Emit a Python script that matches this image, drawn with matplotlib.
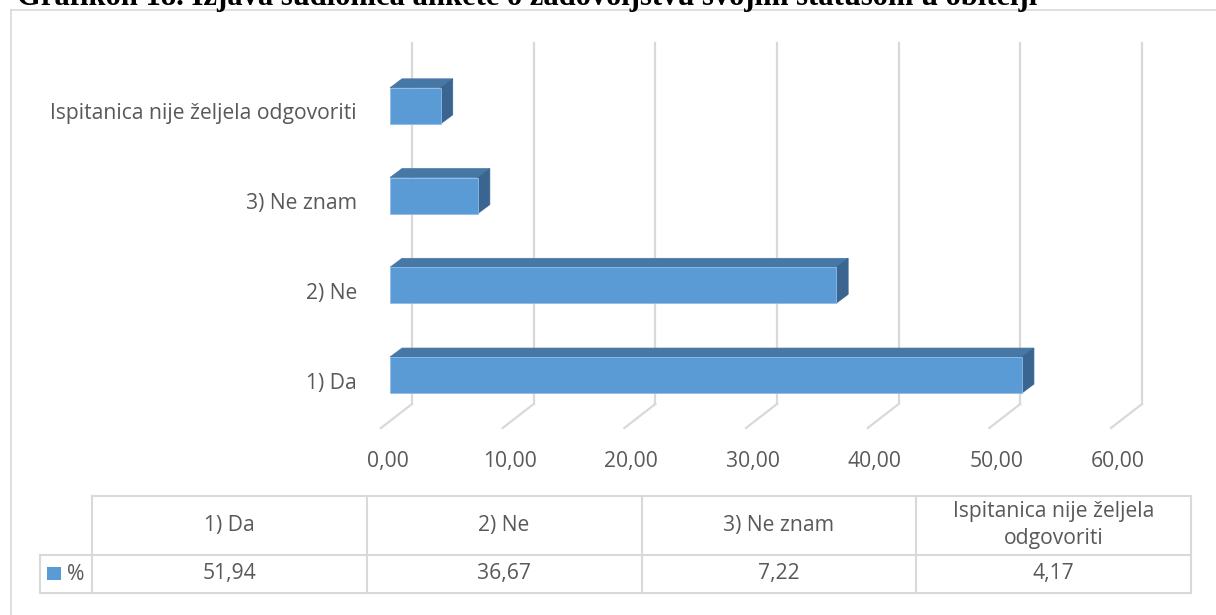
import matplotlib.pyplot as plt
from matplotlib.patches import Polygon, Rectangle
from matplotlib.lines import Line2D
from matplotlib import transforms

title = 'Grafikon 18. Izjava sudionica ankete o zadovoljstvu svojim statusom u obitelji'
categories = ['1) Da', '2) Ne', '3) Ne znam', 'Ispitanica nije željela odgovoriti']
header_labels = ['1) Da', '2) Ne', '3) Ne znam', 'Ispitanica nije željela\nodgovoriti']
values = [51.94, 36.67, 7.22, 4.17]
value_labels = ['51,94', '36,67', '7,22', '4,17']
xticks = [0, 10, 20, 30, 40, 50, 60]
xtick_labels = ['0,00', '10,00', '20,00', '30,00', '40,00', '50,00', '60,00']
series_name = '%'

plt.rcParams['font.family'] = ['Open Sans', 'DejaVu Sans']
txt_col = '#595959'
grid_col = '#d9d9d9'
front_col = '#5b9bd5'
top_col = '#4677a5'
side_col = '#3a6591'
fs = 15.2

W, H = 1216, 615
fig = plt.figure(figsize=(W / 100, H / 100), dpi=100)


def box(x0, y0, x1, y1):
    # pixel box (top-left origin) -> figure fraction rect
    return [x0 / W, 1 - y1 / H, (x1 - x0) / W, (y1 - y0) / H]


# ---- chart area
ax_px = (390, 43, 1120, 428)
ax = fig.add_axes(box(*ax_px))
ax.set_xlim(0, 60)
ax.set_ylim(-0.59, 3.70)
ax.axis('off')

ppx = (ax_px[2] - ax_px[0]) / 60.0
ppy = (ax_px[3] - ax_px[1]) / (3.70 + 0.59)
bt = transforms.blended_transform_factory(ax.transData, ax.transAxes)
floor_back = 24 / (ax_px[3] - ax_px[1])

# gridlines with the 3d floor
for v in xticks:
    ax.plot([v + 22 / ppx] * 2, [floor_back, 1], color=grid_col, lw=1.6,
            transform=bt, clip_on=False, zorder=1)
    ax.plot([v + 22 / ppx, v - 9 / ppx], [floor_back, 0], color=grid_col,
            lw=1.6, transform=bt, clip_on=False, zorder=1)

for v, lab in zip(xticks, xtick_labels):
    ax.text(v - 2 / ppx, -34 / (ax_px[3] - ax_px[1]), lab, transform=bt,
            ha='center', va='center', fontsize=fs, color=txt_col)

# bars
bh = 36 / ppy
dx, dy = 12 / ppx, 9 / ppy
for i, v in enumerate(values):
    y0, y1 = i - bh / 2, i + bh / 2
    ax.add_patch(Polygon([(0, y1), (v, y1), (v + dx, y1 + dy), (dx, y1 + dy)],
                         closed=True, fc=top_col, ec=top_col, lw=0.5, zorder=3))
    ax.add_patch(Polygon([(v, y0), (v + dx, y0 + dy), (v + dx, y1 + dy), (v, y1)],
                         closed=True, fc=side_col, ec=side_col, lw=0.5, zorder=3))
    ax.add_patch(Rectangle((0, y0), v, bh, fc=front_col, ec='#8fbde8', lw=0.6,
                           zorder=4))

lt = transforms.blended_transform_factory(ax.transAxes, ax.transData)
for i, c in enumerate(categories):
    ax.text(-33 / (ax_px[2] - ax_px[0]), i - 8 / ppy, c, transform=lt,
            ha='right', va='center', fontsize=fs, color=txt_col)

# ---- data table
colw = (1191 - 92) / len(categories)
lx = -52 / colw
tax = fig.add_axes(box(40, 496, 1191, 593))
tax.set_xlim(lx, len(categories))
tax.set_ylim(97, 0)
tax.axis('off')
n = len(categories)
kw = dict(color=grid_col, lw=1.5, clip_on=False)
tax.plot([0, n], [0, 0], **kw)
tax.plot([lx, n], [59, 59], **kw)
tax.plot([lx, n], [97, 97], **kw)
tax.plot([lx, lx], [59, 97], **kw)
for k in range(n + 1):
    tax.plot([k, k], [0, 97], **kw)
for i in range(n):
    tax.text(i + 0.5, 29, header_labels[i], ha='center', va='center',
             fontsize=fs, color=txt_col, linespacing=1.35)
    tax.text(i + 0.5, 78, value_labels[i], ha='center', va='center',
             fontsize=fs, color=txt_col)
tax.add_patch(Rectangle((lx + 7 / colw, 71), 14 / colw, 13, fc=front_col,
                        ec='none', clip_on=False))
tax.text(lx + 27 / colw, 78, series_name, ha='left', va='center',
         fontsize=fs, color=txt_col)

# ---- outer frame and cut title
fig.add_artist(Line2D([11 / W, 11 / W], [0, 1 - 10 / H], color=grid_col, lw=1.2))
fig.add_artist(Line2D([11 / W, 1], [1 - 10 / H, 1 - 10 / H], color=grid_col, lw=1.2))
fig.text(17 / W, 1 - 5 / H, title, va='baseline', ha='left',
         fontfamily='Liberation Serif', fontweight='bold', fontsize=22)

fig.savefig('out.png', dpi=100)
